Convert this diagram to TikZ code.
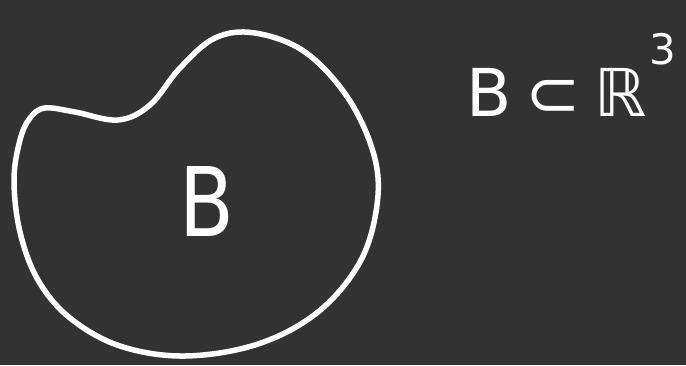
\documentclass[tikz,border=0pt]{standalone}
\usepackage{fontspec}
\setsansfont{DejaVu Sans}
\begin{document}
\begin{tikzpicture}[x=1pt,y=-1pt,
  ink/.style={draw=white,line width=5.5pt,line cap=round,line join=round},
  lbl/.style={text=white,font=\sffamily\fontsize{80}{80}\selectfont}]
\useasboundingbox[fill={rgb,255:red,50;green,50;blue,50}] (0,0) rectangle (686,365);
\draw[ink] plot[smooth cycle,tension=0.6] coordinates {
  (45,108) (75,112) (118,120) (150,105) (180,68) (215,38) (255,33)
  (305,52) (348,98) (374,155) (377,205) (360,262) (318,312) (258,344)
  (185,356) (120,346) (70,318) (38,280) (20,232) (14,180) (20,140) (30,118)};
\node[lbl,yscale=1.2] (b) at (207,202) {B};
\node[text=white,font=\sffamily\fontsize{66}{66}\selectfont,anchor=base west,inner sep=0pt] (s) at (466,116) {B\kern 14pt⊂\kern 14ptℝ\kern 2pt\raisebox{52pt}{\fontsize{42}{42}\selectfont 3}};
\end{tikzpicture}
\end{document}
